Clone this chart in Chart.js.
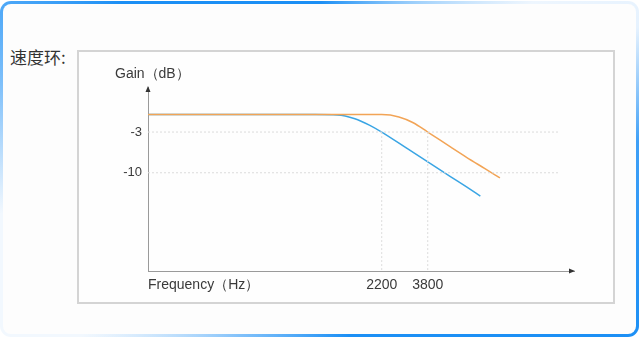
<!DOCTYPE html>
<html>
<head>
<meta charset="utf-8">
<script src="https://cdn.jsdelivr.net/npm/chart.js@4.4.1/dist/chart.umd.min.js"></script>
<style>
  html, body { margin:0; padding:0; width:640px; height:339px; overflow:hidden; background:#ffffff; }
  #frame { position:absolute; left:0px; top:1px; width:639px; height:336px; border-radius:11px;
    background: conic-gradient(from 0deg at 50% 50%, #1b8ff5 0deg, #9fd0fb 30deg, #eef6fe 52deg, #e6f2fe 66deg, #3fa0f7 85deg, #1b8ff5 120deg, #1b8ff5 170deg, #7fc0fa 205deg, #f2f8fe 235deg, #f2f8fe 262deg, #7fc0fa 285deg, #1b8ff5 310deg, #1b8ff5 360deg); }
  #inner { position:absolute; left:3px; top:3px; right:3px; bottom:3px; border-radius:8px; background:#fdfdfd; }
  #box { position:absolute; left:77px; top:50px; width:534px; height:250px; border:2px solid #d4d4d4; background:#fefefe; }
  #wrap { position:absolute; left:0; top:0; width:640px; height:339px; }
  .lbl { position:absolute; font-family:"Liberation Sans", Arial, sans-serif; color:#3a3a3a; white-space:nowrap; line-height:1; }
  #title { position:absolute; left:10px; top:48px; font-family:"Noto Sans CJK SC", sans-serif; font-size:17px; color:#333; line-height:1; }
</style>
</head>
<body>
<div id="frame"><div id="inner"></div></div>
<div id="box"></div>
<div id="title">速度环:</div>
<div id="wrap"><canvas id="c" width="640" height="339"></canvas></div>
<div class="lbl" style="left:115px; top:66px; font-size:14px;">Gain（dB）</div>
<div class="lbl" style="left:148px; top:277px; font-size:14px;">Frequency（Hz）</div>
<script>
// Frequency points (Hz) and gain (dB)
const blueFreq  = [137, 1000, 1300, 1600, 1900, 2200, 3000, 4000, 5000, 6000, 7100];
const blueGain  = [0, 0, -0.05, -0.7, -1.8, -3, -5.9, -8.6, -10.7, -12.4, -14];
const orangeFreq = [137, 2200, 2700, 3200, 3800, 5000, 6000, 7500, 8960];
const orangeGain = [0, 0, -0.4, -1.4, -3, -5.6, -7.3, -9.3, -10.9];

const xTicks = [2200, 3800];
const yTicks = [-3, -10];
const xRange = [137, 21600];
const yRange = [-26.9, 4.75];
const guideEnd = 17900;   // right end of the horizontal guide lines (Hz)
const guideBottom = -26.9;

const toPts = (xs, ys) => xs.map((x, i) => ({x: x, y: ys[i]}));
const guideStyle = { borderColor:'#dcdcdc', borderWidth:1, borderDash:[2,2], pointRadius:0, fill:false, tension:0 };

const datasets = [];
yTicks.forEach(v => datasets.push(Object.assign({ data:[{x:xRange[0], y:v},{x:guideEnd, y:v}] }, guideStyle)));
xTicks.forEach(v => datasets.push(Object.assign({ data:[{x:v, y:yTicks[0]},{x:v, y:guideBottom}] }, guideStyle)));
datasets.push({ data: toPts(orangeFreq, orangeGain), borderColor:'#f2a456', borderWidth:1.5, pointRadius:0, cubicInterpolationMode:'monotone', fill:false });
datasets.push({ data: toPts(blueFreq, blueGain), borderColor:'#3aa5e4', borderWidth:1.5, pointRadius:0, cubicInterpolationMode:'monotone', fill:false });

const arrows = {
  id:'arrows',
  afterDraw(chart) {
    const a = chart.chartArea, ctx = chart.ctx;
    ctx.save();
    ctx.fillStyle = '#333';
    ctx.beginPath();
    ctx.moveTo(a.left, a.top - 1);
    ctx.lineTo(a.left - 2.5, a.top + 5);
    ctx.lineTo(a.left + 2.5, a.top + 5);
    ctx.closePath(); ctx.fill();
    ctx.beginPath();
    ctx.moveTo(a.right + 1, a.bottom);
    ctx.lineTo(a.right - 5, a.bottom - 2.5);
    ctx.lineTo(a.right - 5, a.bottom + 2.5);
    ctx.closePath(); ctx.fill();
    ctx.restore();
  }
};

new Chart(document.getElementById('c'), {
  type:'line',
  data:{ datasets },
  options:{
    responsive:false, animation:false,
    layout:{ padding:{ left:108, right:66, top:87, bottom:38 } },
    plugins:{ legend:{display:false}, tooltip:{enabled:false} },
    scales:{
      x:{ type:'logarithmic', min:xRange[0], max:xRange[1],
          grid:{display:false, drawTicks:false}, border:{display:true, color:'#9a9a9a', width:1},
          afterBuildTicks:s => { s.ticks = xTicks.map(v => ({value:v})); },
          afterFit:s => { s.height = 30; },
          ticks:{ autoSkip:false, maxRotation:0, padding:6, color:'#3a3a3a',
                  font:{family:'"Liberation Sans", Arial, sans-serif', size:14},
                  callback:v => String(v) } },
      y:{ type:'linear', min:yRange[0], max:yRange[1],
          grid:{display:false, drawTicks:false}, border:{display:true, color:'#9a9a9a', width:1},
          afterBuildTicks:s => { s.ticks = yTicks.map(v => ({value:v})); },
          afterFit:s => { s.width = 40; },
          ticks:{ padding:6, color:'#3a3a3a',
                  font:{family:'"Liberation Sans", Arial, sans-serif', size:13},
                  callback:v => String(v) } }
    }
  },
  plugins:[arrows]
});
</script>
</body>
</html>
